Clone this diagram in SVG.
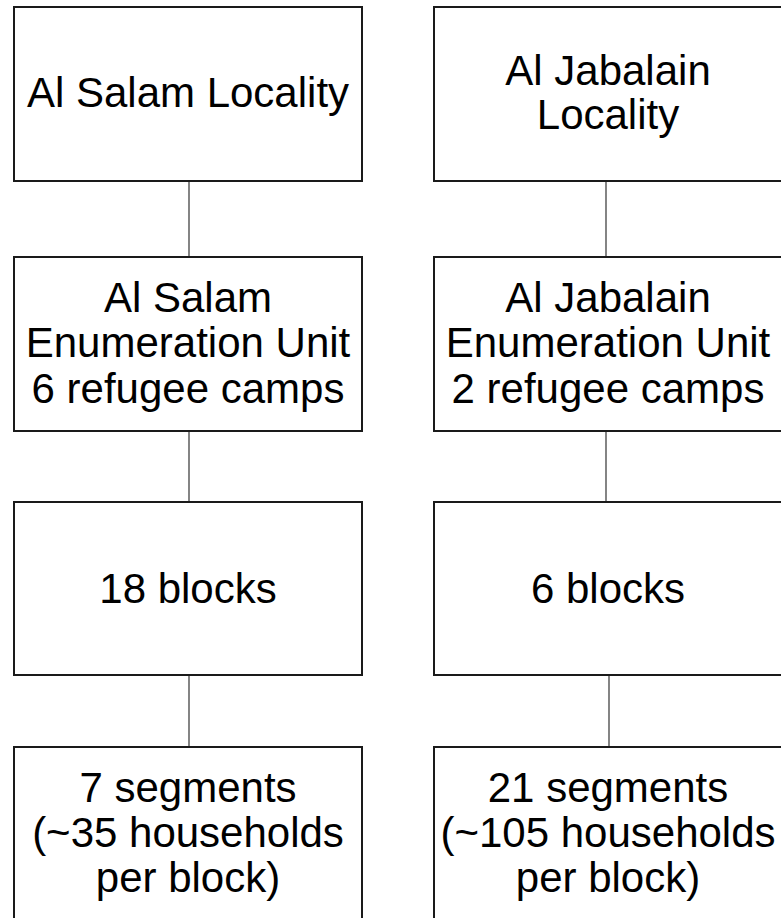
<svg xmlns="http://www.w3.org/2000/svg" width="781" height="918" viewBox="0 0 781 918">
<style>
.box{fill:#fff;stroke:#1a1a1a;stroke-width:2}
.t{font-family:"Liberation Sans",Arial,sans-serif;font-size:42px;fill:#000;text-anchor:middle}
.c{stroke:#333;stroke-width:1.2;fill:none}
</style>
<rect width="781" height="918" fill="#fff"/>
<g id="connectors">
<line class="c" x1="189" y1="181" x2="189" y2="257"/>
<line class="c" x1="189" y1="431" x2="189" y2="502"/>
<line class="c" x1="189" y1="675" x2="189" y2="747"/>
<line class="c" x1="606" y1="181" x2="606" y2="257"/>
<line class="c" x1="606" y1="431" x2="606" y2="502"/>
<line class="c" x1="609" y1="675" x2="609" y2="747"/>
</g>
<g id="salam-locality">
<rect class="box" x="14" y="7" width="348" height="174"/>
<text class="t" x="188" y="107">Al Salam Locality</text>
</g>
<g id="jabalain-locality">
<rect class="box" x="434" y="7" width="348" height="174"/>
<text class="t" x="608" y="85">Al Jabalain</text>
<text class="t" x="608" y="129">Locality</text>
</g>
<g id="salam-eu">
<rect class="box" x="14" y="257" width="348" height="174"/>
<text class="t" x="188" y="312">Al Salam</text>
<text class="t" x="188" y="357">Enumeration Unit</text>
<text class="t" x="188" y="403">6 refugee camps</text>
</g>
<g id="jabalain-eu">
<rect class="box" x="434" y="257" width="348" height="174"/>
<text class="t" x="608" y="312">Al Jabalain</text>
<text class="t" x="608" y="357">Enumeration Unit</text>
<text class="t" x="608" y="403">2 refugee camps</text>
</g>
<g id="salam-blocks">
<rect class="box" x="14" y="502" width="348" height="173"/>
<text class="t" x="188" y="603">18 blocks</text>
</g>
<g id="jabalain-blocks">
<rect class="box" x="434" y="502" width="348" height="173"/>
<text class="t" x="608" y="603">6 blocks</text>
</g>
<g id="salam-segments">
<rect class="box" x="14" y="747" width="348" height="174"/>
<text class="t" x="188" y="802">7 segments</text>
<text class="t" x="188" y="847">(~35 households</text>
<text class="t" x="188" y="892">per block)</text>
</g>
<g id="jabalain-segments">
<rect class="box" x="434" y="747" width="348" height="174"/>
<text class="t" x="608" y="802">21 segments</text>
<text class="t" x="608" y="847">(~105 households</text>
<text class="t" x="608" y="892">per block)</text>
</g>
</svg>
